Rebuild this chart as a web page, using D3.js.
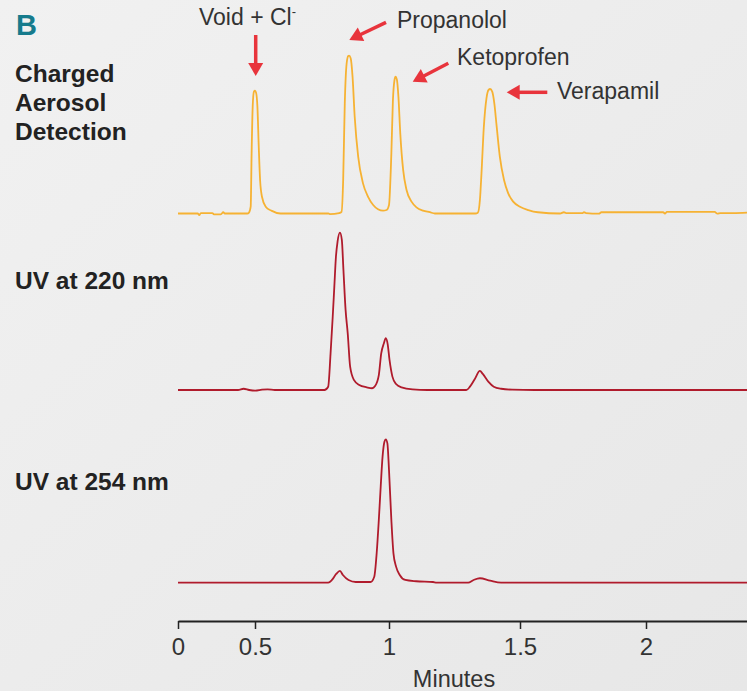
<!DOCTYPE html>
<html>
<head>
<meta charset="utf-8">
<script src="https://cdn.jsdelivr.net/npm/d3@7"></script>
<style>
  html, body { margin: 0; padding: 0; }
  body { width: 747px; height: 691px; overflow: hidden; }
  text { font-family: "Liberation Sans", Arial, Helvetica, sans-serif; }
</style>
</head>
<body>
<div id="chart"></div>
<script>
// Retention time (minutes) and relative response (% of tallest peak in each trace)
var cadTime = [0, 0.128, 0.138, 0.148, 0.223, 0.233, 0.278, 0.294, 0.304, 0.450, 0.461, 0.472, 0.478, 0.485, 0.493, 0.500, 0.504, 0.509, 0.514, 0.519, 0.526, 0.540, 0.561, 0.595, 0.774, 0.779, 0.814, 0.823, 0.829, 0.835, 0.842, 0.848, 0.851, 0.857, 0.864, 0.872, 0.885, 0.903, 0.922, 0.941, 0.959, 0.978, 0.991, 1.000, 1.009, 1.015, 1.021, 1.025, 1.030, 1.036, 1.043, 1.054, 1.067, 1.086, 1.105, 1.130, 1.156, 1.175, 1.330, 1.339, 1.347, 1.353, 1.362, 1.372, 1.380, 1.386, 1.394, 1.402, 1.411, 1.423, 1.439, 1.455, 1.474, 1.500, 1.533, 1.571, 1.659, 1.674, 1.683, 1.747, 1.754, 1.762, 1.813, 1.823, 2.068, 2.075, 2.083, 2.272, 2.283, 2.294, 2.345, 2.401];
var cadSignal = [0, 0, -1.0, 0.3, 0.3, -0.5, -0.5, 0.8, 0, 0, 0.6, 4.3, 38.1, 67.7, 77.2, 77.8, 76.6, 67.7, 42.3, 21.2, 10.6, 4.3, 1.8, 0, 0, -0.4, 0.3, 1.1, 21.2, 69.8, 95.2, 99.8, 100, 98.4, 86.7, 61.3, 36.0, 19.1, 10.6, 5.4, 2.7, 1.8, 2.2, 5.4, 38.1, 71.9, 84.6, 86.7, 85.0, 74.0, 50.8, 27.6, 14.9, 7.5, 3.9, 1.8, 0.8, 0, 0, 0.5, 8.6, 25.5, 55.0, 73.0, 78.3, 78.9, 77.2, 69.8, 55.0, 36.0, 21.2, 12.8, 7.5, 4.3, 2.2, 0.8, 0, 0.8, 0.3, 0.3, 0.8, 0.3, -0.1, 0.8, 0.8, -0.1, 1.0, 1.0, -0.1, 0.3, 0.2, 0.5];

var uv220Time = [0, 0.390, 0.426, 0.462, 0.501, 0.526, 0.547, 0.574, 0.759, 0.773, 0.782, 0.790, 0.796, 0.802, 0.808, 0.817, 0.824, 0.830, 0.838, 0.846, 0.855, 0.869, 0.889, 0.917, 0.937, 0.948, 0.962, 0.971, 0.981, 0.988, 0.995, 1.002, 1.013, 1.027, 1.048, 1.090, 1.147, 1.295, 1.309, 1.327, 1.347, 1.358, 1.379, 1.400, 1.428, 1.470, 1.557, 2.401];
var uv220Signal = [0, 0, 0.8, 0, -0.4, 0.2, 0.4, 0, 0, 2.1, 23.3, 46.6, 65.7, 84.7, 94.3, 100, 95.4, 76.3, 50.9, 36.0, 14.8, 6.4, 3.2, 1.7, 1.1, 2.5, 9.5, 23.3, 29.7, 32.9, 29.2, 19.1, 8.5, 3.8, 1.7, 0.4, 0, 0, 2.1, 6.8, 12.1, 10.2, 5.3, 2.1, 0.8, 0.2, 0, 0];

var uv254Time = [0, 0.773, 0.787, 0.803, 0.817, 0.828, 0.849, 0.876, 0.931, 0.945, 0.954, 0.962, 0.969, 0.976, 0.983, 0.988, 0.994, 1.000, 1.009, 1.017, 1.027, 1.041, 1.062, 1.104, 1.168, 1.182, 1.302, 1.323, 1.347, 1.386, 1.428, 2.401];
var uv254Signal = [0, 0, 1.9, 6.1, 8.2, 5.4, 1.9, 0.5, 0.5, 4.2, 20.5, 43.7, 66.9, 87.9, 98.3, 100, 97.2, 78.6, 43.7, 20.5, 11.2, 5.4, 1.9, 1.0, 0.5, 0, 0, 1.9, 3.1, 1.4, 0, 0];

var tickValues = [0, 0.5, 1, 1.5, 2];
var peakNames = ["Void + Cl", "Propanolol", "Ketoprofen", "Verapamil"];

var width = 747, height = 691;

var svg = d3.select("#chart").append("svg")
  .attr("width", width)
  .attr("height", height);

// background
var defs = svg.append("defs");
var grad = defs.append("linearGradient")
  .attr("id", "bg")
  .attr("x1", "0").attr("y1", "0").attr("x2", "1").attr("y2", "1");
grad.append("stop").attr("offset", "0").attr("stop-color", "#f1f1f1");
grad.append("stop").attr("offset", "1").attr("stop-color", "#e7e7e7");
svg.append("rect").attr("width", width).attr("height", height).attr("fill", "url(#bg)");

// The printed time axis is not evenly spaced, so use a piecewise scale
var x = d3.scaleLinear()
  .domain([0, 0.5, 1, 1.5, 2, 2.4])
  .range([178, 255, 389, 520, 646, 747]);

// one band per detector
var panels = [
  {name: "CAD", time: cadTime, signal: cadSignal, base: 213.5, top: 55.7, color: "#f6b233", label: ["Charged", "Aerosol", "Detection"], labelY: 82},
  {name: "UV220", time: uv220Time, signal: uv220Signal, base: 390, top: 232.7, color: "#b01b2c", label: ["UV at 220 nm"], labelY: 289},
  {name: "UV254", time: uv254Time, signal: uv254Signal, base: 582.7, top: 439.3, color: "#b01b2c", label: ["UV at 254 nm"], labelY: 490}
];

panels.forEach(function(p) {
  var y = d3.scaleLinear().domain([0, 100]).range([p.base, p.top]);
  var line = d3.line()
    .x(function(d) { return x(d[0]); })
    .y(function(d) { return y(d[1]); })
    .curve(d3.curveMonotoneX);

  svg.append("path")
    .datum(d3.zip(p.time, p.signal))
    .attr("fill", "none")
    .attr("stroke", p.color)
    .attr("stroke-width", 1.8)
    .attr("stroke-linejoin", "round")
    .attr("d", line);

  var t = svg.append("text")
    .attr("x", 15)
    .attr("y", p.labelY)
    .attr("font-size", 24.5)
    .attr("font-weight", "bold")
    .attr("fill", "#222");
  p.label.forEach(function(s, i) {
    t.append("tspan").attr("x", 15).attr("dy", i == 0 ? 0 : 29).text(s);
  });
});

// panel letter
svg.append("text")
  .attr("x", 16)
  .attr("y", 35)
  .attr("font-size", 29)
  .attr("font-weight", "bold")
  .attr("fill", "#167b8c")
  .text("B");

// axis
var axis = svg.append("g")
  .attr("transform", "translate(0,621)")
  .call(d3.axisBottom(x)
    .tickValues(tickValues)
    .tickFormat(function(d) { return String(d); })
    .tickSize(8)
    .tickSizeOuter(0)
    .tickPadding(9));
axis.select(".domain").attr("stroke", "#222").attr("stroke-width", 2);
axis.selectAll(".tick line").attr("stroke", "#222").attr("stroke-width", 1.5);
axis.selectAll(".tick text")
  .attr("font-size", 24)
  .attr("font-family", "'Liberation Sans', Arial, sans-serif")
  .attr("fill", "#333");

svg.append("text")
  .attr("x", 454)
  .attr("y", 687)
  .attr("text-anchor", "middle")
  .attr("font-size", 23.5)
  .attr("fill", "#333")
  .text("Minutes");

// peak annotations with red arrows
var red = "#e8343c";
var notes = [
  {text: peakNames[0], tx: 199, ty: 25, x1: 255.7, y1: 35, x2: 255.7, y2: 76, sup: true},
  {text: peakNames[1], tx: 397, ty: 28, x1: 386, y1: 22.3, x2: 349.3, y2: 40},
  {text: peakNames[2], tx: 457, ty: 65, x1: 448.3, y1: 63.3, x2: 412.7, y2: 81.7},
  {text: peakNames[3], tx: 557, ty: 99, x1: 547.3, y1: 92.3, x2: 506.7, y2: 92.3}
];

notes.forEach(function(n) {
  var t = svg.append("text")
    .attr("x", n.tx)
    .attr("y", n.ty)
    .attr("font-size", 23)
    .attr("fill", "#333")
    .text(n.text);
  if (n.sup) {
    t.append("tspan").attr("font-size", 13).attr("dy", -9).text("-");
  }

  var ang = Math.atan2(n.y2 - n.y1, n.x2 - n.x1);
  var headLen = 13, headW = 7.5;
  var bx = n.x2 - headLen * Math.cos(ang), by = n.y2 - headLen * Math.sin(ang);
  svg.append("line")
    .attr("x1", n.x1).attr("y1", n.y1)
    .attr("x2", bx + Math.cos(ang)).attr("y2", by + Math.sin(ang))
    .attr("stroke", red)
    .attr("stroke-width", 3.5);
  var px = -Math.sin(ang), py = Math.cos(ang);
  svg.append("polygon")
    .attr("points", [
      [n.x2, n.y2],
      [bx + px * headW, by + py * headW],
      [bx - px * headW, by - py * headW]
    ].map(function(p) { return p.join(","); }).join(" "))
    .attr("fill", red);
});
</script>
</body>
</html>
